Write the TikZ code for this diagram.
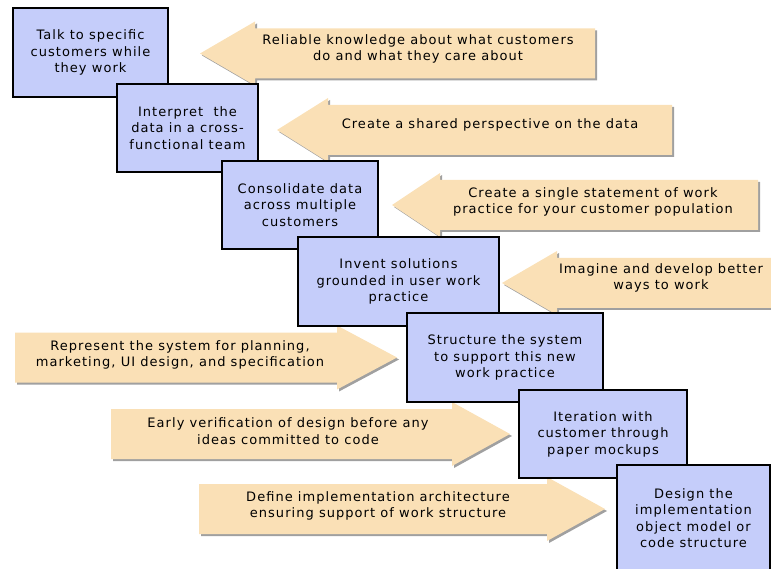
\documentclass[tikz,border=0pt]{standalone}
\usepackage{fontspec}
\setmainfont{DejaVu Sans}[LetterSpace=8]
\tikzset{>=stealth}
\definecolor{stageblue}{RGB}{197,205,250}
\definecolor{gaintan}{RGB}{250,224,182}
\definecolor{gainshade}{RGB}{160,160,160}
\tikzset{
  stage/.style={draw=black, line width=1.2pt, fill=stageblue, align=center,
    inner sep=0pt, font=\fontsize{13}{16.5}\selectfont},
  gain/.style={align=center, inner sep=0pt, font=\fontsize{13}{16.5}\selectfont},
}

\begin{document}
\begin{tikzpicture}[x=1pt, y=-1pt]
    \useasboundingbox (0,0) rectangle (771,569);
    % arrows: centre y / tip / head base / far end of the body
    \foreach \c/\t/\h/\e in {53.5/200/255/595, 130/277/328/672, 205/392/440/758,
        283/502/557/785, 357.5/397/337/15, 434/510/452/111, 509/605/547/199}
    {
    \fill[gainshade, shift={(2,2)}] (\t,\c) -- (\h,\c-32) -- (\h,\c-25) -- (\e,\c-25)
        -- (\e,\c+25) -- (\h,\c+25) -- (\h,\c+32) -- cycle;
    \fill[gaintan] (\t,\c) -- (\h,\c-32) -- (\h,\c-25) -- (\e,\c-25)
        -- (\e,\c+25) -- (\h,\c+25) -- (\h,\c+32) -- cycle;
    }
    \node[gain] (knowledge) at (418,49) {Reliable knowledge about what customers\\do and what they care about};
    \node[gain] (perspective) at (490,125) {Create a shared perspective on the data};
    \node[gain] (statement) at (593,202) {Create a single statement of work\\practice for your customer population};
    \node[gain] (imagine) at (661,278) {Imagine and develop better\\ways to work};
    \node[gain] (represent) at (180,355) {Represent the system for planning,\\marketing, UI design, and specification};
    \node[gain] (verify) at (288,431) {Early verification of design before any\\ideas committed to code};
    \node[gain] (define) at (378,506) {Define implementation architecture\\ensuring support of work structure};
    % stages
    \node[stage, minimum width=155pt, minimum height=89pt] (talk) at (90.5,52.5)
        {Talk to specific\\customers while\\they work};
    \node[stage, minimum width=141pt, minimum height=88pt] (interpret) at (187.5,128)
        {Interpret \ the\\data in a cross-\\functional team};
    \node[stage, minimum width=156pt, minimum height=88pt] (consolidate) at (300,205)
        {Consolidate data\\across multiple\\customers};
    \node[stage, minimum width=201pt, minimum height=89pt] (invent) at (398.5,281.5)
        {Invent solutions\\grounded in user work\\practice};
    \node[stage, minimum width=196pt, minimum height=89pt] (structure) at (505,357.5)
        {Structure the system\\to support this new\\work practice};
    \node[stage, minimum width=168pt, minimum height=88pt] (iterate) at (603,434)
        {Iteration with\\customer through\\paper mockups};
    \node[stage, minimum width=153pt, minimum height=106pt] (design) at (693.5,518)
        {Design the\\implementation\\object model or\\code structure};
\end{tikzpicture}
\end{document}
